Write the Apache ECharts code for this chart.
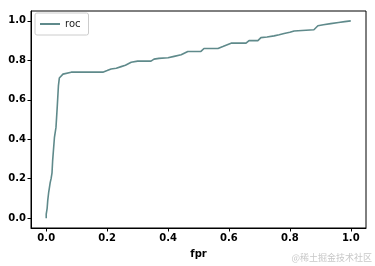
<!DOCTYPE html>
<html>
<head>
<meta charset="utf-8">
<script src="https://cdn.jsdelivr.net/npm/echarts@6/dist/echarts.min.js"></script>
<style>
html,body{margin:0;padding:0;background:#fff;}
#c{width:375px;height:266px;}
</style>
</head>
<body>
<div id="c"></div>
<script>
var fpr = [0, 0, 0.003, 0.005, 0.008, 0.010, 0.013, 0.016, 0.019, 0.021, 0.025, 0.027, 0.030, 0.032, 0.036, 0.040, 0.043, 0.055, 0.082, 0.186, 0.20, 0.213, 0.23, 0.246, 0.26, 0.279, 0.30, 0.344, 0.354, 0.37, 0.40, 0.42, 0.443, 0.465, 0.508, 0.518, 0.564, 0.58, 0.607, 0.656, 0.666, 0.695, 0.705, 0.725, 0.748, 0.765, 0.781, 0.80, 0.814, 0.879, 0.892, 0.91, 0.934, 0.96, 0.98, 1.0];
var tpr = [0, 0.02, 0.05, 0.09, 0.13, 0.15, 0.18, 0.2, 0.23, 0.29, 0.29, 0.41, 0.44, 0.46, 0.56, 0.67, 0.71, 0.73, 0.74, 0.74, 0.748, 0.756, 0.76, 0.768, 0.775, 0.79, 0.796, 0.796, 0.806, 0.81, 0.813, 0.82, 0.828, 0.845, 0.845, 0.86, 0.86, 0.87, 0.887, 0.887, 0.90, 0.90, 0.915, 0.918, 0.924, 0.93, 0.936, 0.942, 0.949, 0.955, 0.975, 0.98, 0.986, 0.992, 0.996, 1.0];
var xTicks = [0, 0.2, 0.4, 0.6, 0.8, 1.0];
var yTicks = [0, 0.2, 0.4, 0.6, 0.8, 1.0];
var seriesName = 'roc';
var xTitle = 'fpr';
var watermark = '@稀土掘金技术社区';

var data = fpr.map(function (v, i) { return [v, tpr[i]]; });
var chart = echarts.init(document.getElementById('c'), null, {renderer: 'canvas'});
var fmt = function (v) { return v.toFixed(1); };
chart.setOption({
  animation: false,
  textStyle: {fontFamily: 'DejaVu Sans'},
  grid: {left: 31, right: 9, top: 11, bottom: 38, show: true, borderColor: '#000', borderWidth: 1, backgroundColor: 'transparent'},
  legend: {
    show: true, left: 35, top: 13, orient: 'vertical',
    data: [{name: seriesName, icon: 'rect'}],
    itemWidth: 20, itemHeight: 2, itemGap: 4,
    padding: [6, 8, 6, 5], borderColor: '#cccccc', borderWidth: 1, borderRadius: 2,
    textStyle: {fontSize: 10, color: '#222', fontFamily: 'DejaVu Sans'}
  },
  xAxis: {
    type: 'value', min: -0.05, max: 1.05,
    name: xTitle, nameLocation: 'middle', nameGap: 21,
    nameTextStyle: {fontSize: 10, color: '#000', fontWeight: 'bold'},
    splitLine: {show: false},
    axisLine: {show: true, onZero: false, lineStyle: {color: '#000'}},
    axisTick: {show: true, length: 3.5, customValues: xTicks, lineStyle: {color: '#000'}},
    axisLabel: {customValues: xTicks, formatter: fmt, fontSize: 10, color: '#000', fontWeight: 'bold', margin: 5}
  },
  yAxis: {
    type: 'value', min: -0.05, max: 1.05,
    splitLine: {show: false},
    axisLine: {show: true, onZero: false, lineStyle: {color: '#000'}},
    axisTick: {show: true, length: 3.5, customValues: yTicks, lineStyle: {color: '#000'}},
    axisLabel: {customValues: yTicks, formatter: fmt, fontSize: 10, color: '#000', fontWeight: 'bold', margin: 5}
  },
  series: [{
    name: seriesName, type: 'line', data: data, showSymbol: false,
    lineStyle: {color: '#5f8a8b', width: 1.6}, itemStyle: {color: '#5f8a8b'}
  }],
  graphic: [{
    type: 'text', right: 3, bottom: 4,
    style: {text: watermark, fill: '#c8c8c8', fontSize: 9, fontFamily: 'Noto Sans CJK SC'}
  }]
});
</script>
</body>
</html>
